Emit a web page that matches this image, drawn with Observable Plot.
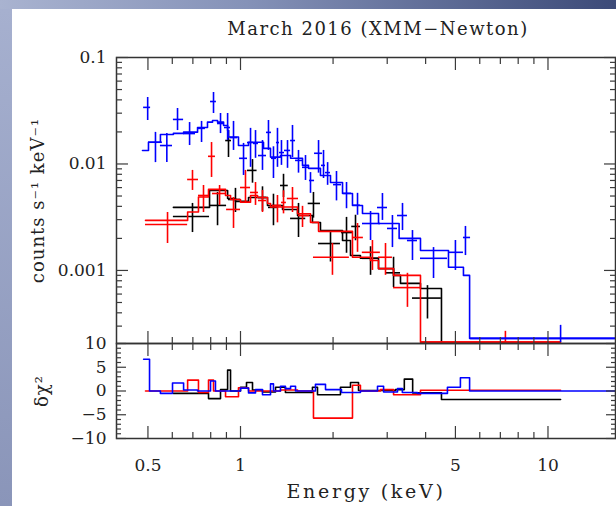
<!DOCTYPE html>
<html><head><meta charset="utf-8">
<script src="https://cdn.jsdelivr.net/npm/d3@7"></script>
<script src="https://cdn.jsdelivr.net/npm/@observablehq/plot@0.6"></script>
<style>
html,body{margin:0;padding:0;background:#fff;}
#wrap{position:relative;width:616px;height:506px;overflow:hidden;background:#fff;}
#band{position:absolute;left:0;top:0;width:616px;height:9px;background:linear-gradient(to right,#a9b3d0,#8592b8 40%,#3c4a78);}
#bar{position:absolute;left:0;top:9px;width:12px;bottom:0;background:linear-gradient(to bottom,#a6b0cf,#8a95b9);}
#title{position:absolute;top:19px;left:378px;transform:translateX(-50%);font-family:"DejaVu Serif";font-size:18px;letter-spacing:1.5px;white-space:nowrap;color:#222;line-height:20px;}
.p{position:absolute;left:0;}
g[aria-label="x-axis label"] text{letter-spacing:2.7px;font-size:19px;}
g[aria-label="y-axis label"] text{letter-spacing:1px;font-size:18px;}
</style>
</head><body>
<div id="wrap">
  <div id="band"></div>
  <div id="bar"></div>
  <div id="title">March 2016 (XMM−Newton)</div>
  <div id="top" class="p" style="top:0"></div>
  <div id="bot" class="p" style="top:330px"></div>
</div>
<script>
// ---------- data (energy keV, counts s^-1 keV^-1) ----------
// points: [E, Elo, Ehi, V, Vlo, Vhi]
const bluePoints = [
  [0.499,0.484,0.510, 0.0340,0.0256,0.0421],
  [0.529,0.502,0.557, 0.0160,0.0103,0.0198],
  [0.576,0.549,0.601, 0.0149,0.0103,0.0193],
  [0.624,0.605,0.653, 0.0262,0.0206,0.0332],
  [0.683,0.653,0.714, 0.0193,0.0149,0.0245],
  [0.747,0.725,0.769, 0.0216,0.0159,0.0251],
  [0.817,0.799,0.835, 0.0386,0.0298,0.0469],
  [0.861,0.842,0.881, 0.0240,0.0193,0.0298],
  [0.908,0.887,0.928, 0.0220,0.0166,0.0298],
  [0.949,0.928,0.978, 0.0177,0.0134,0.0251],
  [1.023,0.993,1.054, 0.0113,0.0078,0.0156],
  [1.078,1.054,1.102, 0.0159,0.0093,0.0216],
  [1.119,1.102,1.144, 0.0156,0.0113,0.0206],
  [1.179,1.144,1.215, 0.0120,0.0087,0.0166],
  [1.233,1.215,1.261, 0.0198,0.0134,0.0256],
  [1.280,1.261,1.309, 0.0113,0.0073,0.0145],
  [1.319,1.309,1.339, 0.0159,0.0093,0.0216],
  [1.359,1.339,1.390, 0.0128,0.0097,0.0166],
  [1.422,1.390,1.455, 0.0134,0.0091,0.0166],
  [1.476,1.455,1.510, 0.0166,0.0115,0.0230],
  [1.544,1.510,1.591, 0.0108,0.0082,0.0134],
  [1.627,1.591,1.676, 0.0093,0.0070,0.0120],
  [1.689,1.676,1.741, 0.0070,0.0053,0.0083],
  [1.794,1.741,1.848, 0.0126,0.0082,0.0166],
  [1.862,1.834,1.890, 0.0097,0.0073,0.0134],
  [1.920,1.890,1.962, 0.0083,0.0063,0.0103],
  [2.052,2.007,2.131, 0.0064,0.0045,0.0085],
  [2.212,2.163,2.296, 0.0053,0.0038,0.0067],
  [2.402,2.313,2.455, 0.0041,0.0033,0.0053],
  [2.648,2.493,2.852, 0.00276,0.00191,0.00358],
  [2.895,2.790,3.006, 0.0039,0.00295,0.00528],
  [3.120,3.006,3.241, 0.00248,0.00164,0.00328],
  [3.364,3.241,3.491, 0.00328,0.00237,0.00426],
  [3.625,3.491,3.763, 0.00191,0.00124,0.00237],
  [4.244,3.849,4.713, 0.00130,0.00084,0.00164],
  [5.000,4.747,5.310, 0.00148,0.00100,0.00191],
  [5.390,5.310,5.600, 0.00204,0.00138,0.00259],
  [10.99,5.600,16.58, 0.00023,0.00021,0.000305]
];
const redPoints = [
  [0.579,0.491,0.673, 0.00270,0.00179,0.00350],
  [0.698,0.673,0.730, 0.00715,0.00564,0.0087],
  [0.758,0.730,0.787, 0.00506,0.00350,0.00628],
  [0.805,0.787,0.829, 0.0118,0.00747,0.0159],
  [0.855,0.811,0.901, 0.00528,0.00408,0.00628],
  [0.949,0.901,1.000, 0.00374,0.00248,0.00484],
  [1.038,1.000,1.078, 0.00601,0.00426,0.0087],
  [1.119,1.078,1.144, 0.00540,0.00408,0.00670],
  [1.179,1.144,1.215, 0.00454,0.00350,0.00564],
  [1.319,1.270,1.360, 0.00408,0.00280,0.00506],
  [1.380,1.360,1.410, 0.00435,0.00340,0.00560],
  [1.476,1.420,1.544, 0.00474,0.00350,0.00601],
  [1.591,1.544,1.676, 0.00328,0.00253,0.00400],
  [1.991,1.727,2.260, 0.00133,0.00090,0.00179],
  [2.402,2.313,2.510, 0.00204,0.00148,0.00276],
  [2.686,2.490,2.850, 0.00148,0.00100,0.00191],
  [2.962,2.810,3.120, 0.00133,0.00090,0.00179],
  [3.491,3.146,3.849, 0.00069,0.00045,0.00094],
  [7.270,3.849,10.99, 0.000212,0.000207,0.000268]
];
const blackPoints = [
  [0.698,0.605,0.793, 0.00321,0.00227,0.00426],
  [0.842,0.793,0.901, 0.00408,0.00263,0.00540],
  [0.914,0.895,0.935, 0.0166,0.0115,0.0206],
  [0.963,0.914,1.000, 0.00464,0.00350,0.00590],
  [1.094,1.054,1.132, 0.0087,0.0066,0.0110],
  [1.179,1.144,1.215, 0.00484,0.00358,0.00610],
  [1.280,1.233,1.330, 0.00391,0.00263,0.00520],
  [1.380,1.349,1.430, 0.00628,0.00484,0.00800],
  [1.544,1.455,1.630, 0.00308,0.00204,0.00426],
  [1.727,1.660,1.820, 0.00426,0.00310,0.00540],
  [1.962,1.794,2.114, 0.00179,0.00120,0.00227],
  [2.212,2.131,2.313, 0.00227,0.00145,0.00315],
  [2.366,2.300,2.455, 0.00259,0.00190,0.00330],
  [2.648,2.493,2.811, 0.00130,0.00090,0.00167],
  [3.146,2.962,3.314, 0.00095,0.00069,0.00133],
  [4.056,3.625,4.500, 0.00055,0.00035,0.00072]
];
// folded model (step histograms): bin edges and values
const blueModelEdges = [0.480,0.502,0.549,0.605,0.653,0.725,0.781,0.811,0.842,0.881,0.908,0.914,0.985,1.062,1.188,1.252,1.349,1.455,1.591,1.664,1.820,1.962,2.147,2.313,2.493,2.811,3.28,3.849,4.747,5.31,5.56,16.58];
const blueModelValues = [0.0134,0.0160,0.0189,0.0194,0.0199,0.0220,0.0247,0.0256,0.0247,0.0230,0.0206,0.0179,0.0149,0.0160,0.0140,0.0116,0.0120,0.0113,0.0097,0.0091,0.0078,0.0067,0.00528,0.00408,0.00343,0.00276,0.00200,0.00154,0.00107,0.000898,0.00023];
const redModelEdges = [0.491,0.673,0.730,0.787,0.894,0.928,1.0,1.078,1.136,1.224,1.252,1.533,1.689,1.794,2.313,2.648,2.811,3.146,3.849,10.99];
const redModelValues = [0.00295,0.00354,0.00489,0.00577,0.00506,0.00464,0.00438,0.00506,0.00484,0.00426,0.00394,0.00341,0.00283,0.00233,0.00133,0.00124,0.00104,0.000898,0.000212];
const blackModelEdges = [0.605,0.793,0.908,0.963,1.062,1.224,1.370,1.533,1.714,1.820,2.147,2.279,2.455,2.811,3.146,3.314,3.849,4.504,4.52];
const blackModelValues = [0.00391,0.00564,0.00474,0.00445,0.00484,0.00408,0.00374,0.00328,0.00282,0.00237,0.00191,0.00138,0.00130,0.00104,0.000898,0.000756,0.000676,0.000207];
// residuals (delta chi^2) step histograms
const blueResidEdges = [0.484,0.506,0.549,0.601,0.653,0.725,0.799,0.829,1.0,1.062,1.119,1.179,1.252,1.280,1.349,1.40,1.455,1.510,1.753,1.89,2.13,2.455,2.79,2.92,3.24,3.36,3.76,4.71,5.19,5.56,16.58];
const blueResidValues = [6.7,0,-0.5,1.7,0.2,0,2.1,0,0.6,-0.4,0.3,-0.8,1.5,0,1.0,0.5,1.0,0,1.4,0.3,-0.3,0,1.0,-0.2,0.5,-0.3,-0.5,0.8,2.8,0];
const redResidEdges = [0.491,0.673,0.730,0.787,0.817,0.894,0.985,1.062,1.349,1.533,1.727,2.313,2.455,2.852,3.146,3.849,10.99];
const redResidValues = [0,2.3,-0.3,2.3,0,-1.2,0.7,0,0.2,0,-5.7,1.2,0,0.3,-0.8,0.15];
const blackResidEdges = [0.605,0.787,0.861,0.908,0.928,1.0,1.046,1.094,1.179,1.30,1.40,1.714,1.78,2.114,2.279,2.42,3.19,3.41,3.63,4.504,10.99];
const blackResidValues = [-0.5,-1.6,0.3,4.4,0,0.8,1.8,0.2,-0.2,0.8,-0.3,0.8,-0.8,0.8,1.8,0.1,0.3,2.5,-0.4,-1.8];

// ---------- axes ----------
const xDomain = [0.3951, 16.58];
const yDomain = [2.06e-4, 0.1];
const rDomain = [-10, 10];
const xMajor = [0.5, 1, 5, 10];
const xMinor = [0.6, 0.7, 0.8, 0.9, 2, 3, 4, 6, 7, 8, 9];
const yMajor = [0.001, 0.01, 0.1];
const yMajorLabels = ["0.001", "0.01", "0.1"];
const yMinor = [3e-4,4e-4,5e-4,6e-4,7e-4,8e-4,9e-4,2e-3,3e-3,4e-3,5e-3,6e-3,7e-3,8e-3,9e-3,2e-2,3e-2,4e-2,5e-2,6e-2,7e-2,8e-2,9e-2];
const rMajor = [-10, -5, 0, 5, 10];
const rMajorLabels = ["−10", "−5", "0", "5", "10"];
const rMinor = [-9,-8,-7,-6,-4,-3,-2,-1,1,2,3,4,6,7,8,9];
const xLabel = "Energy (keV)";
const yLabel = "counts s⁻¹ keV⁻¹";
const rLabel = "δχ²";

const series = [
  {color: "#000000", pts: blackPoints, me: blackModelEdges, mv: blackModelValues, re: blackResidEdges, rv: blackResidValues},
  {color: "#ff0000", pts: redPoints, me: redModelEdges, mv: redModelValues, re: redResidEdges, rv: redResidValues},
  {color: "#0000ff", pts: bluePoints, me: blueModelEdges, mv: blueModelValues, re: blueResidEdges, rv: blueResidValues}
];
const toPts = rows => rows.map(([E, Elo, Ehi, V, Vlo, Vhi]) => ({E, Elo, Ehi, V, Vlo, Vhi}));
const toSteps = (edges, values) => edges.map((e, i) => ({E: e, V: values[Math.min(i, values.length - 1)]}));

const SW = 1.6;
const tickCol = "#3a3a3a";
const noText = () => "";
function tickSet(majorX, minorX, majorY, minorY, lenMaj, lenMin, lenMajY, lenMinY) {
  const o = {tickFormat: noText, label: null, stroke: tickCol, strokeWidth: 1.2};
  return [
    Plot.axisX({...o, anchor: "bottom", ticks: majorX, tickSize: -lenMaj}),
    Plot.axisX({...o, anchor: "bottom", ticks: minorX, tickSize: -lenMin}),
    Plot.axisX({...o, anchor: "top", ticks: majorX, tickSize: -lenMaj}),
    Plot.axisX({...o, anchor: "top", ticks: minorX, tickSize: -lenMin}),
    Plot.axisY({...o, anchor: "left", ticks: majorY, tickSize: -lenMajY}),
    Plot.axisY({...o, anchor: "left", ticks: minorY, tickSize: -lenMinY}),
    Plot.axisY({...o, anchor: "right", ticks: majorY, tickSize: -lenMajY}),
    Plot.axisY({...o, anchor: "right", ticks: minorY, tickSize: -lenMinY})
  ];
}

const topMarks = [];
const botMarks = [];
for (const s of series) {
  const pts = toPts(s.pts);
  topMarks.push(
    Plot.line(toSteps(s.me, s.mv), {x: "E", y: "V", curve: "step-after", stroke: s.color, strokeWidth: SW}),
    Plot.ruleY(pts, {y: "V", x1: "Elo", x2: "Ehi", stroke: s.color, strokeWidth: SW}),
    Plot.ruleX(pts, {x: "E", y1: "Vlo", y2: "Vhi", stroke: s.color, strokeWidth: SW})
  );
  botMarks.push(
    Plot.line(toSteps(s.re, s.rv), {x: "E", y: "V", curve: "step-after", stroke: s.color, strokeWidth: SW})
  );
}

const common = {
  width: 616,
  marginLeft: 116, marginRight: 1,
  style: {background: "transparent", fontFamily: "DejaVu Serif", fontSize: "17px", color: "#222", overflow: "visible"}
};

const topPlot = Plot.plot({
  ...common,
  height: 344, marginTop: 57, marginBottom: 1,
  x: {type: "log", domain: xDomain},
  y: {type: "log", domain: yDomain},
  marks: [
    ...topMarks,
    Plot.frame({stroke: "#333", strokeWidth: 1.5}),
    ...tickSet(xMajor, xMinor, yMajor, yMinor, 12, 6, 12, 6),
    Plot.axisY({anchor: "left", ticks: yMajor, tickSize: 0, tickPadding: 10,
      tickFormat: d => yMajorLabels[yMajor.indexOf(d)],
      label: yLabel, labelAnchor: "center", labelOffset: 85, labelArrow: "none"})
  ]
});

const botPlot = Plot.plot({
  ...common,
  height: 176, marginTop: 13, marginBottom: 68,
  x: {type: "log", domain: xDomain},
  y: {type: "linear", domain: rDomain},
  marks: [
    ...botMarks,
    Plot.frame({stroke: "#333", strokeWidth: 1.5}),
    ...tickSet(xMajor, xMinor, rMajor, rMinor, 12, 6, 10, 5),
    Plot.axisY({anchor: "left", ticks: rMajor, tickSize: 0, tickPadding: 10,
      tickFormat: d => rMajorLabels[rMajor.indexOf(d)],
      label: rLabel, labelAnchor: "center", labelOffset: 81, labelArrow: "none"}),
    Plot.axisX({anchor: "bottom", ticks: xMajor, tickSize: 0, tickPadding: 20,
      tickFormat: d => String(d),
      label: xLabel, labelAnchor: "center", labelOffset: 59, labelArrow: "none"})
  ]
});

document.getElementById("top").appendChild(topPlot);
document.getElementById("bot").appendChild(botPlot);
</script>
</body></html>
